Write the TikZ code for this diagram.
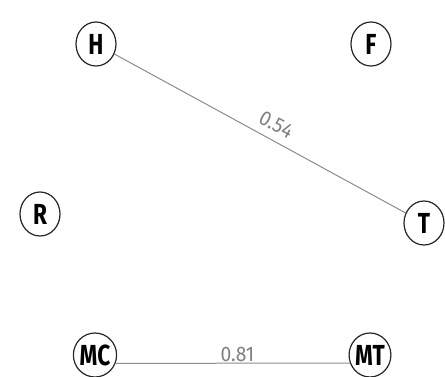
\documentclass[tikz,border=0pt]{standalone}
\usepackage{fontspec}
\setmainfont{Fira Sans}[FakeStretch=0.78]
\newfontfamily\lblfont{Fira Sans}[FakeStretch=0.92]
\usetikzlibrary{shapes.geometric}
\begin{document}
\begin{tikzpicture}[x=1pt,y=-1pt,
  vnode/.style={draw=black!85,line width=1.2pt,ellipse,minimum width=40pt,minimum height=44pt,inner sep=0pt,font=\fontsize{29}{31}\selectfont\bfseries},
  vedge/.style={draw=black!45,line width=1pt},
  wlabel/.style={text=black!50,font=\lblfont\fontsize{21}{23}\selectfont}]
\useasboundingbox (0,0) rectangle (445,376);
\node[vnode] (H) at (96,44) {H};
\node[vnode] (F) at (371,44) {F};
\node[vnode] (R) at (40,214) {R};
\node[vnode] (T) at (424,223) {T};
\node[vnode] (MC) at (95,355) {MC};
\node[vnode] (MT) at (370,355) {MT};
\draw[vedge] (H) -- node[wlabel,pos=0.53,sloped,above,inner sep=8pt] {0.54} (T);
\draw[vedge] (MC.-22) -- node[wlabel,above,pos=0.52,inner sep=1pt] {0.81} (MT.202);
\end{tikzpicture}
\end{document}
